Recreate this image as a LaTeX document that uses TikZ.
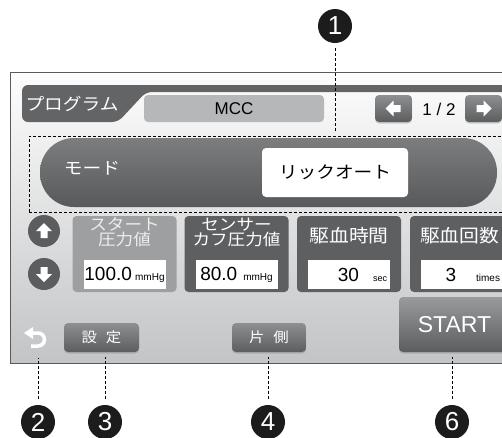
\documentclass[tikz,border=0pt]{standalone}
\usepackage{fontspec}
\setmainfont{Liberation Sans}
\newfontfamily\jpfont[FakeStretch=1.1]{Noto Sans CJK JP}
\usetikzlibrary{shadows}
\definecolor{screenTop}{HTML}{FDFDFD}
\definecolor{screenBottom}{HTML}{C3C4C6}
\definecolor{frameColor}{HTML}{58595B}
\definecolor{barColor}{HTML}{636466}
\definecolor{fieldColor}{HTML}{B6B7B9}
\definecolor{pillTop}{HTML}{7C7D7F}
\definecolor{pillBottom}{HTML}{58595B}
\definecolor{boxDark}{HTML}{5E5F61}
\definecolor{boxLight}{HTML}{9E9FA1}
\definecolor{labelLight}{HTML}{EDEDED}
\definecolor{btnTop}{HTML}{8E8F91}
\definecolor{btnBottom}{HTML}{5C5D5F}
\definecolor{calloutColor}{HTML}{1C1C1C}

\begin{document}
\begin{tikzpicture}[x=1pt, y=-1pt, thick,
	callout/.style={circle, fill=calloutColor, text=white, minimum size=34pt, inner sep=0pt, font=\fontsize{26}{26}\selectfont},
	leader/.style={black, thin, dash pattern=on 3pt off 2pt},
	keybtn/.style={rounded corners=4pt, top color=btnTop, bottom color=btnBottom, text=white, inner sep=0pt, drop shadow={shadow xshift=0pt, shadow yshift=-1.5pt, opacity=0.35}},
	parambox/.style={rounded corners=4pt, minimum width=104pt, minimum height=76pt, inner sep=0pt},
	valuefield/.style={fill=white, minimum width=82pt, minimum height=29pt, inner sep=0pt},
	roundbtn/.style={circle, fill=btnBottom, minimum size=32pt, inner sep=0pt}]
		
		\useasboundingbox (0,0) rectangle (502,437);
		\clip (0,0) rectangle (502,437);
		
		% --- 1. Block arrow shape ---
		% points up, rotated for the other directions
		\def\blockArrow{
			(0,-8) -- (8,0) -- (3.5,0) -- (3.5,7) -- (-3.5,7) -- (-3.5,0) -- (-8,0) -- cycle
		}
		
		% --- 2. Screen ---
		\shade[top color=screenTop, bottom color=screenBottom, draw=frameColor, line width=1pt] (10,72) rectangle (515,363);
		
		% Program tab and top bar
		\fill[barColor, rounded corners=6pt] (22,85) -- (22,122) -- (118,122) -- (146,92) -- (515,92) -- (515,85) -- cycle;
		\node[text=white, font=\jpfont\fontsize{17}{17}\selectfont] (tablbl) at (72,104) {プログラム};
		\node[fill=fieldColor, rounded corners=4pt, minimum width=180pt, minimum height=27pt, font=\fontsize{17}{17}\selectfont] (prog) at (234,108.5) {MCC};
		
		% Page buttons
		\node[keybtn, minimum width=37pt, minimum height=27pt] (prev) at (393.5,108.5) {};
		\node[keybtn, minimum width=37pt, minimum height=27pt] (next) at (483.5,108.5) {};
		\fill[white, shift={(393.5,108.5)}, rotate=90] \blockArrow;
		\fill[white, shift={(483.5,108.5)}, rotate=-90] \blockArrow;
		\node[font=\fontsize{17}{17}\selectfont] (page) at (439,109) {1 / 2};
		
		% --- 3. Mode row (item 1) ---
		\node[rounded corners=34pt, top color=pillTop, bottom color=pillBottom, minimum width=457pt, minimum height=69pt] (mode) at (268.5,172.5) {};
		\node[text=white, font=\jpfont\fontsize{17}{17}\selectfont] (modelbl) at (92,168) {モード};
		\node[fill=white, rounded corners=4pt, minimum width=146pt, minimum height=49pt, font=\jpfont\fontsize{17}{17}\selectfont] (modeval) at (335,172.5) {リックオート};
		\node[leader, draw, minimum width=483pt, minimum height=76pt] (modearea) at (270.5,174) {};
		
		% --- 4. Parameter boxes ---
		\foreach \y/\rot in {231/0, 274/180} {
			\node[roundbtn] (arrow\rot) at (44,\y) {};
			\fill[white, shift={(44,\y)}, rotate=\rot] \blockArrow;
		}
		
		\foreach \n/\xx/\boxc/\lblc/\fs/\ly/\lbl in {
			start/124.5/boxLight/labelLight/16/232.5/{スタート\\圧力値},
			cuff/236.5/boxDark/white/16/232.5/{センサー\\カフ圧力値},
			time/349/boxDark/white/18/236/{駆血時間},
			count/462/boxDark/white/18/236/{駆血回数}
		} {
			\node[parambox, fill=\boxc] (box\n) at (\xx,254) {};
			\node[valuefield] (val\n) at (\xx,274.5) {};
			\node[text=\lblc, align=center, inner sep=0pt, font=\jpfont\fontsize{\fs}{14}\selectfont] (lbl\n) at (\xx,\ly) {\lbl};
		}
		
		\node[font=\fontsize{19}{19}\selectfont, inner sep=0pt] (numstart) at (valstart) {100.0\,{\fontsize{10}{10}\selectfont mmHg}};
		\node[font=\fontsize{19}{19}\selectfont, inner sep=0pt] (numcuff) at (valcuff) {80.0\hspace{6pt}{\fontsize{10}{10}\selectfont mmHg}};
		\node[font=\fontsize{19}{19}\selectfont, inner sep=0pt, anchor=east] (numtime) at ([xshift=-3pt]valtime.east) {30\hspace{14pt}{\fontsize{9}{9}\selectfont sec}};
		\node[font=\fontsize{19}{19}\selectfont, inner sep=0pt, anchor=east] (numcount) at ([xshift=-3pt]valcount.east) {3\hspace{20pt}{\fontsize{10}{10}\selectfont times}};
		
		% --- 5. Bottom row ---
		\node[minimum size=22pt, inner sep=0pt] (back) at (37,337.5) {};
		\draw[white, line width=3.5pt] (33,333) -- (38,333) arc[start angle=90, end angle=-90, radius=6.5pt] -- (31,346);
		\fill[white] (24,333) -- (33,327) -- (33,339) -- cycle;
		
		\node[keybtn, minimum width=75pt, minimum height=29pt, font=\jpfont\fontsize{14}{14}\selectfont] (setbtn) at (101.5,337.5) {設\hspace{9pt}定};
		\node[keybtn, minimum width=74pt, minimum height=29pt, font=\jpfont\fontsize{14}{14}\selectfont] (sidebtn) at (269,337.5) {片\hspace{9pt}側};
		\node[keybtn, top color=btnTop!90!white, minimum width=111pt, minimum height=55pt, font=\fontsize{23}{23}\selectfont] (startbtn) at (454.5,324.5) {START};
		
		% --- 6. Callouts ---
		\node[callout] (c1) at (335,26) {1};
		\foreach \n/\xx in {2/38, 3/105, 4/268, 6/452} {
			\node[callout] (c\n) at (\xx,422) {\n};
		}
		
		\draw[leader, shorten <=5pt, shorten >=4pt] (c1) -- (c1 |- modearea.north);
		\draw[leader, shorten <=6pt, shorten >=9pt] (c2) -- (c2 |- back.south);
		\draw[leader, shorten <=6pt, shorten >=5pt] (c3) -- (c3 |- setbtn.south);
		\draw[leader, shorten <=6pt, shorten >=5pt] (c4) -- (c4 |- sidebtn.south);
		\draw[leader, shorten <=6pt, shorten >=5pt] (c6) -- (c6 |- startbtn.south);
		
	\end{tikzpicture}
\end{document}
